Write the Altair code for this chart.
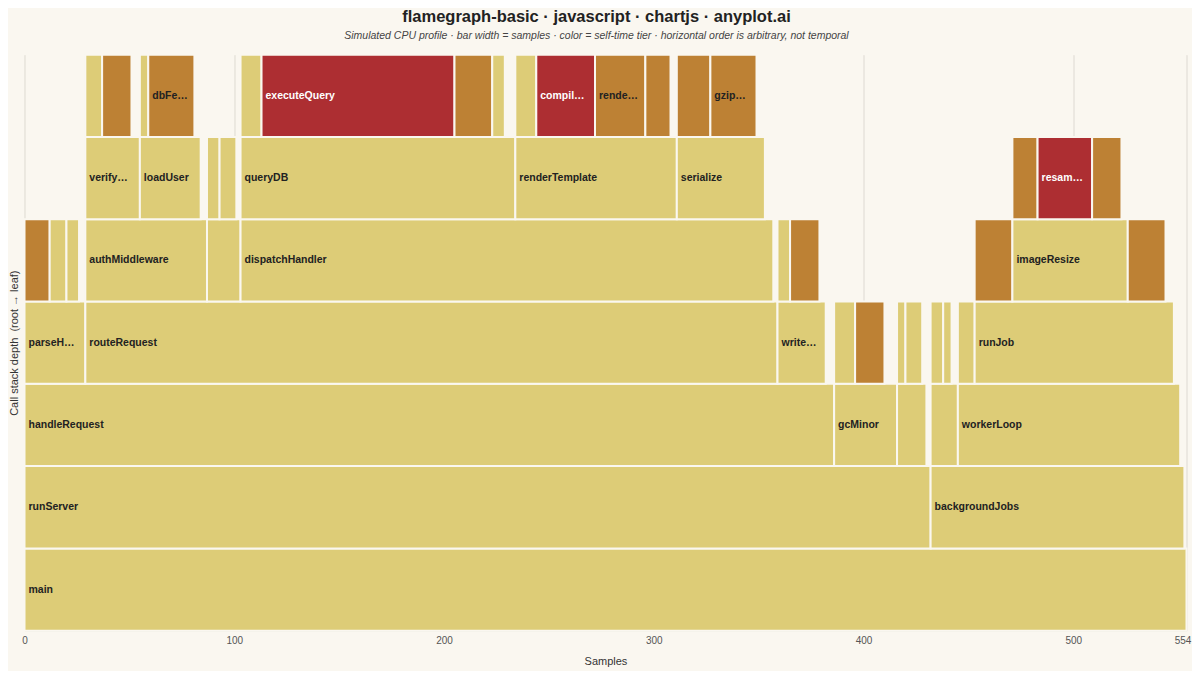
import altair as alt
import pandas as pd

# Frame data: (depth, start, end, label shown, tier)
depths = [0,
          1, 1,
          2, 2, 2, 2, 2,
          3, 3, 3, 3, 3, 3, 3, 3, 3, 3, 3,
          4, 4, 4, 4, 4, 4, 4, 4, 4, 4, 4,
          5, 5, 5, 5, 5, 5, 5, 5, 5, 5,
          6, 6, 6, 6, 6, 6, 6, 6, 6, 6, 6, 6, 6, 6]
starts = [0,
          0, 432,
          0, 386, 416, 432, 445,
          0, 29, 359, 386, 396, 416, 420, 432, 438, 445, 453,
          0, 12, 20, 29, 87, 103, 359, 365, 453, 471, 526,
          29, 55, 87, 93, 103, 234, 311, 471, 483, 509,
          29, 37, 55, 59, 103, 113, 205, 223, 234, 244, 272, 296, 311, 327]
ends = [554,
        432, 553,
        386, 416, 430, 445, 551,
        29, 359, 382, 396, 410, 420, 428, 438, 442, 453, 548,
        12, 20, 26, 87, 103, 357, 365, 379, 471, 526, 544,
        55, 84, 93, 101, 234, 311, 353, 483, 509, 523,
        37, 51, 59, 81, 113, 205, 223, 229, 244, 272, 296, 308, 327, 349]
labels = ["main",
          "runServer", "backgroundJobs",
          "handleRequest", "gcMinor", "", "", "workerLoop",
          "parseH…", "routeRequest", "write…", "", "", "", "", "", "", "", "runJob",
          "", "", "", "authMiddleware", "", "dispatchHandler", "", "", "", "imageResize", "",
          "verify…", "loadUser", "", "", "queryDB", "renderTemplate", "serialize", "", "resam…", "",
          "", "", "", "dbFe…", "", "executeQuery", "", "", "", "compil…", "rende…", "", "", "gzip…"]
tiers = ["low",
         "low", "low",
         "low", "low", "low", "low", "low",
         "low", "low", "low", "low", "mid", "low", "low", "low", "low", "low", "low",
         "mid", "low", "low", "low", "low", "low", "low", "mid", "mid", "low", "mid",
         "low", "low", "low", "low", "low", "low", "low", "mid", "high", "mid",
         "low", "mid", "low", "mid", "low", "high", "mid", "low", "low", "high", "mid", "mid", "mid", "mid"]

x_ticks = [0, 100, 200, 300, 400, 500, 554]

BG = "#FAF7F0"
df = pd.DataFrame({"depth": depths, "start": starts, "end": ends,
                   "label": labels, "tier": tiers})
df["top"] = df["depth"] + 1
df["mid"] = df["depth"] + 0.5
df["txtcolor"] = ["white" if t == "high" else "dark" for t in tiers]

xscale = alt.Scale(domain=[0, 554], nice=False, zero=False)
yscale = alt.Scale(domain=[0, 7], nice=False)

base = alt.Chart(df)

bars = base.mark_rect(stroke=BG, strokeWidth=2).encode(
    x=alt.X("start:Q", scale=xscale,
            axis=alt.Axis(values=x_ticks, title="Samples", grid=True, gridColor="#DEDAD2",
                          gridWidth=1, domainColor="#DDDAD3", ticks=False,
                          labelFontSize=10, labelColor="#555555", labelPadding=5,
                          labelFlush=False,
                          labelOffset={"condition": {"test": "datum.value === 554", "value": -4},
                                       "value": 0},
                          titleFontSize=11, titleFontWeight="normal", titleColor="#333333",
                          titlePadding=10, labelFont="Liberation Sans", titleFont="Liberation Sans")),
    x2="end:Q",
    y=alt.Y("depth:Q", scale=yscale,
            axis=alt.Axis(title="Call stack depth\u00a0 (root → leaf)", labels=False, ticks=False,
                          grid=False, domain=False, titleFontSize=11, titleFontWeight="normal",
                          titleColor="#333333", titlePadding=5, titleFont="Liberation Sans")),
    y2="top:Q",
    color=alt.Color("tier:N", legend=None,
                    scale=alt.Scale(domain=["low", "mid", "high"],
                                    range=["#DDCC77", "#BD8134", "#AD2E32"])),
)

text = base.transform_filter("datum.label != ''").mark_text(
    align="left", baseline="middle", dx=4, fontSize=10.5, fontWeight="bold",
    font="Liberation Sans").encode(
    x=alt.X("start:Q", scale=xscale),
    y=alt.Y("mid:Q", scale=yscale),
    text="label:N",
    color=alt.Color("txtcolor:N", legend=None,
                    scale=alt.Scale(domain=["dark", "white"], range=["#222222", "#FFFFFF"])),
)

chart = alt.layer(bars, text).resolve_scale(color="independent").properties(
    width=1162, height=576,
    background=BG,
    padding={"left": 16.5, "top": 46.7, "right": 5.5, "bottom": 40},
    autosize=alt.AutoSizeParams(type="none"),
    title=alt.TitleParams(
        text="flamegraph-basic · javascript · chartjs · anyplot.ai",
        subtitle="Simulated CPU profile · bar width = samples · color = self-time tier · horizontal order is arbitrary, not temporal",
        fontSize=16.5, fontWeight="bold", color="#222222", font="Liberation Sans",
        subtitleFontSize=10.5, subtitleFontStyle="italic", subtitleColor="#444444",
        subtitleFont="Liberation Sans", subtitlePadding=6, anchor="middle", offset=12, dx=-9,
    ),
).configure_view(stroke=None)

chart.save("out.html", embed_options={"renderer": "svg", "actions": False})
